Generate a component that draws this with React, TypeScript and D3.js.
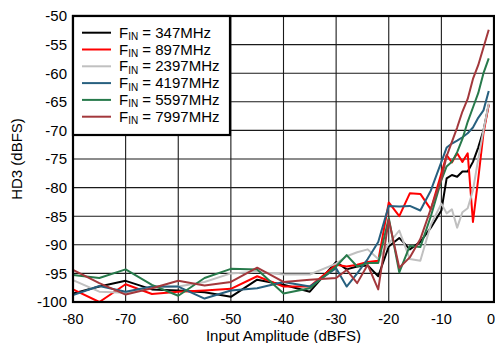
import React from "react";
import * as d3 from "d3";

const xValues = [-80, -75, -70, -65, -60, -55, -50, -45, -40, -35, -30, -28, -26, -24, -22, -20, -18, -16, -14, -12, -10, -9, -8, -7, -6, -5, -4, -3, -2, -1];

const hd3_347 = [-98.5, -97.3, -96.3, -97.8, -98.0, -98.3, -99.1, -96.1, -97.0, -98.2, -93.0, -94.3, -93.8, -93.6, -95.5, -90.3, -88.8, -90.8, -89.5, -87.0, -84.0, -78.4, -77.8, -78.1, -77.2, -77.2, -75.5, -73.0, -70.0, -65.5];
const hd3_897 = [-97.8, -100, -96.9, -98.6, -98.2, -98.0, -97.7, -95.5, -97.3, -97.3, -93.5, -93.8, -93.5, -93.0, -92.8, -82.6, -85.0, -81.0, -81.1, -83.8, -77.5, -74.3, -75.6, -74.0, -75.5, -74.0, -86.0, -78.5, -70.5, -65.5];
const hd3_2397 = [-96.2, -98.2, -98.4, -97.5, -97.3, -96.5, -95.0, -94.7, -95.2, -95.2, -93.3, -92.0, -91.3, -90.8, -92.5, -89.8, -87.5, -92.5, -92.8, -86.5, -82.8, -84.5, -83.8, -87.0, -84.3, -83.6, -80.5, -75.0, -70.0, -65.3];
const hd3_4197 = [-98.8, -97.2, -98.2, -97.3, -97.3, -99.4, -98.0, -97.6, -96.5, -97.3, -94.1, -97.3, -95.0, -92.5, -89.5, -83.2, -83.3, -83.2, -84.0, -80.5, -75.5, -73.0, -72.3, -71.8, -71.2, -70.5, -69.5, -67.8, -66.5, -63.1];
const hd3_5597 = [-95.3, -95.8, -94.3, -97.0, -98.9, -95.8, -94.2, -94.3, -98.5, -97.6, -93.8, -91.8, -93.8, -93.2, -93.2, -85.3, -94.8, -90.2, -90.4, -85.0, -78.7, -76.3, -75.5, -73.8, -71.5, -68.5, -66.0, -63.5, -60.0, -57.4];
const hd3_7997 = [-94.4, -96.7, -98.7, -97.6, -96.3, -97.1, -96.5, -94.0, -96.5, -96.1, -95.8, -94.4, -96.7, -93.5, -97.8, -85.6, -94.0, -92.2, -89.0, -83.7, -78.5, -74.5, -72.0, -69.5, -66.7, -64.5, -61.0, -58.6, -55.5, -52.4];

const seriesLabels = ["347MHz", "897MHz", "2397MHz", "4197MHz", "5597MHz", "7997MHz"];
const seriesValues = [hd3_347, hd3_897, hd3_2397, hd3_4197, hd3_5597, hd3_7997];
const seriesColors = ["#000000", "#ff0000", "#c0c0c0", "#27607f", "#277a4b", "#a3383c"];

const xTicks = [-80, -70, -60, -50, -40, -30, -20, -10, 0];
const yTicks = [-50, -55, -60, -65, -70, -75, -80, -85, -90, -95, -100];

const W = 495;
const H = 343;
const left = 73;
const right = 494;
const top = 16;
const bottom = 302;
const font = "'Liberation Sans', Arial, Helvetica, sans-serif";

export default function App() {
  const x = d3.scaleLinear().domain([-80, 0]).range([left, right]);
  const y = d3.scaleLinear().domain([-100, -50]).range([bottom, top]);
  const line = d3
    .line<[number, number]>()
    .x((d) => x(d[0]))
    .y((d) => y(d[1]));

  const legX1 = 82;
  const legX2 = 111;
  const legTextX = 119;
  const legY0 = 32.7;
  const legDy = 16.8;

  return (
    <svg
      width={W}
      height={H}
      style={{ position: "absolute", left: 0, top: 0, fontFamily: font }}
    >
      <rect x={0} y={0} width={W} height={H} fill="#fff" />
      {xTicks.map((t) => (
        <line key={"gx" + t} x1={x(t)} x2={x(t)} y1={top} y2={bottom} stroke="#1a1a1a" strokeWidth={1.1} />
      ))}
      {yTicks.map((t) => (
        <line key={"gy" + t} x1={left} x2={right} y1={y(t)} y2={y(t)} stroke="#1a1a1a" strokeWidth={1.1} />
      ))}
      <defs>
        <clipPath id="plotclip">
          <rect x={left} y={top} width={right - left} height={bottom - top} />
        </clipPath>
      </defs>
      <g clipPath="url(#plotclip)">
        {seriesValues.map((vals, i) => (
          <path
            key={"s" + i}
            d={line(xValues.map((xv, j) => [xv, vals[j]] as [number, number])) || ""}
            fill="none"
            stroke={seriesColors[i]}
            strokeWidth={2}
            strokeLinejoin="round"
          />
        ))}
      </g>
      <rect x={left} y={top} width={right - left} height={bottom - top} fill="none" stroke="#000" strokeWidth={2.2} />
      <rect x={left} y={top} width={230 - left} height={135 - top} fill="#fff" stroke="#000" strokeWidth={2.2} />
      {seriesLabels.map((lab, i) => {
        const yy = legY0 + i * legDy;
        return (
          <g key={"l" + i}>
            <line x1={legX1} x2={legX2} y1={yy} y2={yy} stroke={seriesColors[i]} strokeWidth={2} />
            <text x={legTextX} y={yy + 5} fontSize={15} fill="#000">
              <tspan>F</tspan>
              <tspan fontSize={10} dy={2.4}>IN</tspan>
              <tspan dy={-2.4}>{" = " + lab}</tspan>
            </text>
          </g>
        );
      })}
      {yTicks.map((t) => (
        <text key={"ty" + t} x={67} y={y(t) + 5.3} fontSize={15} textAnchor="end" fill="#000">
          {t}
        </text>
      ))}
      {xTicks.map((t) => (
        <text
          key={"tx" + t}
          x={t === 0 ? W : x(t)}
          y={324}
          fontSize={14.5}
          textAnchor={t === 0 ? "end" : "middle"}
          fill="#000"
        >
          {t}
        </text>
      ))}
      <text x={(left + right) / 2} y={341} fontSize={15} textAnchor="middle" fill="#000">
        Input Amplitude (dBFS)
      </text>
      <text
        transform={`translate(22, ${(top + bottom) / 2}) rotate(-90)`}
        fontSize={15}
        textAnchor="middle"
        fill="#000"
      >
        HD3 (dBFS)
      </text>
    </svg>
  );
}
